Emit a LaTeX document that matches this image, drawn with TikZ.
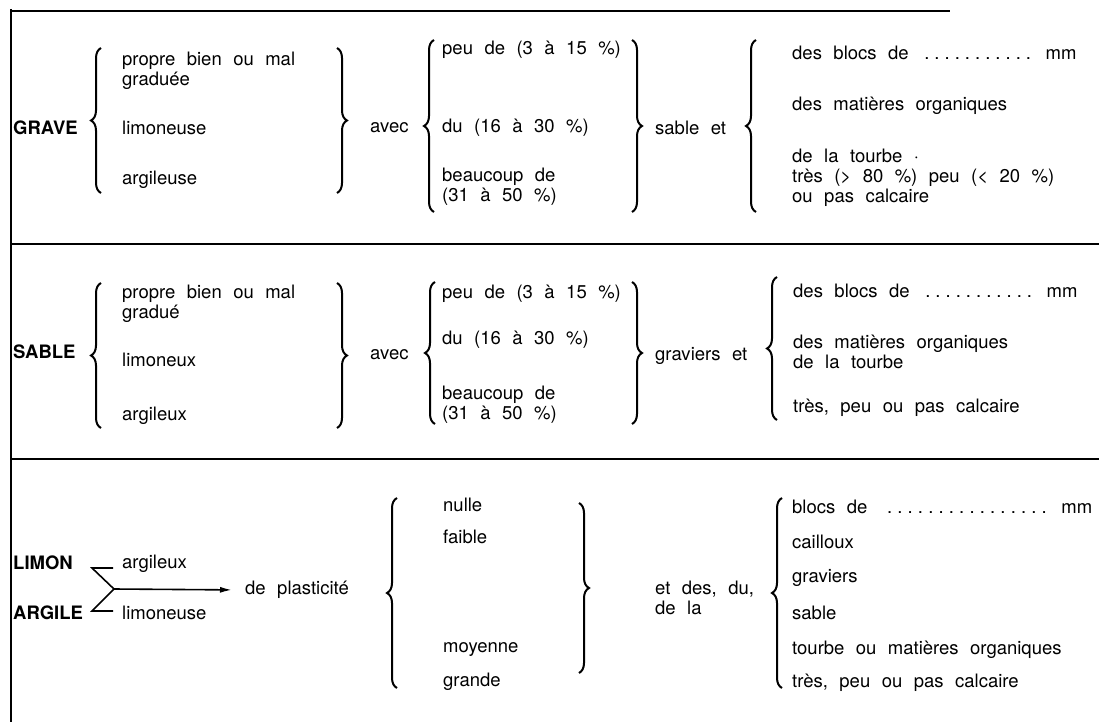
\documentclass[tikz,border=0pt]{standalone}
\usepackage{fontspec}
\setmainfont{TeX Gyre Heros}
\usetikzlibrary{arrows.meta,decorations.pathreplacing}
\newcommand\corps{\fontsize{18.5}{20}\selectfont\spaceskip=0.62em plus 0.1em minus 0.05em\relax}
\newcommand\points[2]{\hbox to #1{\xleaders\hbox to #2{\hss.\hss}\hfill}}
\tikzset{
  txt/.style={anchor=west, inner sep=0pt, align=left, font=\corps},
  titre/.style={txt, font=\corps\bfseries},
  cadre/.style={line width=1.8pt},
  accolade/.style={decorate, decoration={brace, amplitude=10pt}, line width=2pt},
  fleche/.style={line width=1.6pt, -{Latex[length=12pt,width=6pt]}},
}
\begin{document}
\begin{tikzpicture}[x=1pt,y=-1pt]
\useasboundingbox (0,0) rectangle (1099,722);
% cadre
\draw[cadre] (11,11) -- (950,11);
\draw[cadre] (11,9) -- (11,722);
\draw[cadre] (11,244) -- (1099,244);
\draw[cadre] (11,459) -- (1099,459);

% GRAVE
\node[titre] (grave) at (13,128) {GRAVE};
\draw[accolade] (101,193) -- (101,48);
\node[txt] (g-propre) at (122,71) {propre bien ou mal\\graduée};
\node[txt] (g-limon) at (122,128) {limoneuse};
\node[txt] (g-argil) at (122,180) {argileuse};
\draw[accolade] (337,48) -- (337,193);
\node[txt] (g-avec) at (370,128) {avec};
\draw[accolade] (434,212) -- (434,40);
\node[txt] (g-peu) at (442,50) {peu de (3 à 15 \%)};
\node[txt] (g-du) at (442,128) {du (16 à 30 \%)};
\node[txt] (g-beaucoup) at (442,187) {beaucoup de\\(31 à 50 \%)};
\draw[accolade] (632,40) -- (632,212);
\node[txt] (g-sable) at (655,128) {sable et};
\draw[accolade] (756,212) -- (756,40);
\node[txt] (g-blocs) at (792,53) {des blocs de\hspace{13pt}\points{112pt}{10pt}\hspace{12pt}mm};
\node[txt] (g-matieres) at (792,106) {des matières organiques};
\node[txt] (g-tourbe) at (792,178) {de la tourbe ·\\très (> 80 \%) peu (< 20 \%)\\ou pas calcaire};

% SABLE
\node[titre] (sable) at (13,352) {SABLE};
\draw[accolade] (101,428) -- (101,283);
\node[txt] (s-propre) at (122,304) {propre bien ou mal\\gradué};
\node[txt] (s-limon) at (122,360) {limoneux};
\node[txt] (s-argil) at (122,416) {argileux};
\draw[accolade] (337,283) -- (337,428);
\node[txt] (s-avec) at (370,355) {avec};
\draw[accolade] (435,424) -- (435,282);
\node[txt] (s-peu) at (442,294) {peu de (3 à 15 \%)};
\node[txt] (s-du) at (442,340) {du (16 à 30 \%)};
\node[txt] (s-beaucoup) at (442,405) {beaucoup de\\(31 à 50 \%)};
\draw[accolade] (632,282) -- (632,424);
\node[txt] (s-graviers) at (655,356) {graviers et};
\draw[accolade] (777,420) -- (777,277);
\node[txt] (s-blocs) at (793,291) {des blocs de\hspace{13pt}\points{112pt}{10pt}\hspace{12pt}mm};
\node[txt] (s-matieres) at (793,352) {des matières organiques\\de la tourbe};
\node[txt] (s-calcaire) at (793,408) {très, peu ou pas calcaire};

% LIMON / ARGILE
\node[titre] (limon) at (13,563) {LIMON};
\node[titre] (argile) at (13,613) {ARGILE};
\node[txt] (l-argileux) at (122,564) {argileux};
\node[txt] (l-limoneuse) at (122,613) {limoneuse};
\coordinate (haut-d) at (113,568);
\coordinate (haut) at (92,568);
\coordinate (jonction) at (114,589);
\coordinate (bas) at (92,611);
\coordinate (bas-d) at (113,611);
\node[txt] (plasticite) at (245,590) {de plasticité};
\draw[line width=1.6pt] (haut-d) -- (haut) -- (jonction) -- (bas) -- (bas-d);
\draw[fleche, shorten >=13pt] (jonction) -- (plasticite.west);
\draw[accolade] (397,688) -- (397,498);
\node[txt] (nulle) at (443,505) {nulle};
\node[txt] (faible) at (443,537) {faible};
\node[txt] (moyenne) at (443,650) {moyenne};
\node[txt] (grande) at (443,682) {grande};
\draw[accolade] (579,503) -- (579,673);
\node[txt] (etdes) at (655,598) {et des, du,\\de la};
\draw[accolade] (782,688) -- (782,498);
\node[txt] (l-blocs) at (792,507) {blocs de\hspace{17pt}\points{165pt}{10.3pt}\hspace{12pt}mm};
\node[txt] (cailloux) at (792,542) {cailloux};
\node[txt] (graviers) at (792,578) {graviers};
\node[txt] (l-sable) at (792,613) {sable};
\node[txt] (tourbe) at (792,650) {tourbe ou matières organiques};
\node[txt] (calcaire) at (792,683) {très, peu ou pas calcaire};
\end{tikzpicture}
\end{document}
